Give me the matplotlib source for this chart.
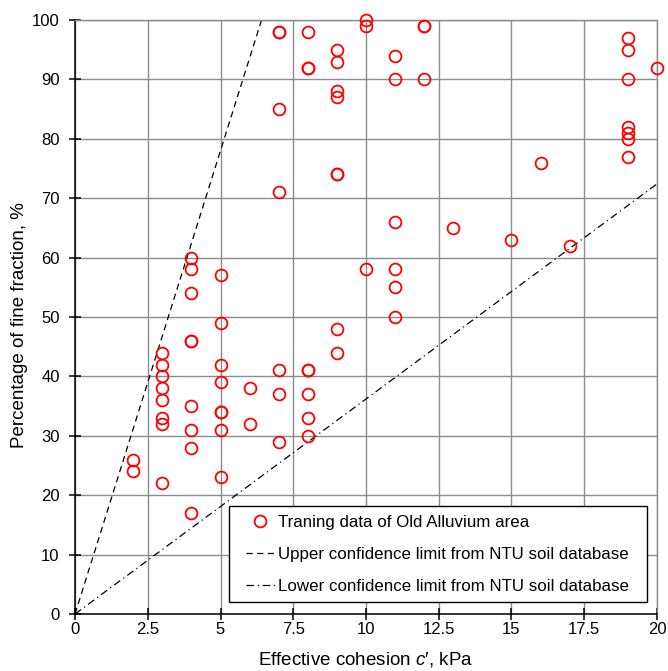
import numpy as np
import matplotlib
matplotlib.use("Agg")
from matplotlib import pyplot as plt
from matplotlib.lines import Line2D
from matplotlib.legend_handler import HandlerLine2D

plt.rcParams['font.family'] = ['Liberation Sans', 'DejaVu Sans']
plt.rcParams['mathtext.fontset'] = 'custom'
plt.rcParams['mathtext.rm'] = 'Liberation Sans'
plt.rcParams['mathtext.it'] = 'Liberation Sans:italic'

# effective cohesion c' (kPa) and fine fraction (%) of the training data
cohesion = [2, 2,
            3, 3, 3, 3, 3, 3, 3, 3,
            4, 4, 4, 4, 4, 4, 4, 4, 4,
            5, 5, 5, 5, 5, 5, 5, 5,
            6, 6,
            7, 7, 7, 7, 7, 7, 7,
            8, 8, 8, 8, 8, 8, 8, 8,
            9, 9, 9, 9, 9, 9, 9, 9,
            10, 10, 10,
            11, 11, 11, 11, 11, 11,
            12, 12, 12,
            13, 15, 16, 17,
            19, 19, 19, 19, 19, 19, 19,
            20]
fines = [26, 24,
         44, 42, 40, 38, 36, 33, 32, 22,
         60, 58, 54, 46, 46, 35, 31, 28, 17,
         57, 49, 42, 39, 34, 34, 31, 23,
         38, 32,
         98, 98, 85, 71, 41, 37, 29,
         98, 92, 92, 41, 41, 37, 33, 30,
         95, 93, 88, 87, 74, 74, 48, 44,
         100, 99, 58,
         94, 90, 66, 58, 55, 50,
         99, 99, 90,
         65, 63, 76, 62,
         97, 95, 90, 82, 81, 80, 77,
         92]

# confidence limits from NTU soil database (FF = k * c')
upper_slope = 15.6
lower_slope = 3.62

fig = plt.figure(figsize=(6.68, 6.71), dpi=100)
ax = fig.add_axes([0.1123, 0.0849, 0.8712, 0.8853])

ax.grid(True, color='#8c8c8c', lw=1.0, zorder=0)
ax.set_axisbelow(True)

ax.plot(cohesion, fines, 'o', ms=8.5, mfc='none', mec='red', mew=1.3,
        label='Traning data of Old Alluvium area  ', zorder=3, clip_on=False)

c_line = np.array([0, 20])
ax.plot(c_line, upper_slope * c_line, color='black', lw=0.9,
        dashes=(5, 3.5), label='Upper confidence limit from NTU soil database  ')
ax.plot(c_line, lower_slope * c_line, color='black', lw=0.9,
        dashes=(6, 3, 1, 3), label='Lower confidence limit from NTU soil database  ')

ax.set_xlim(0, 20)
ax.set_ylim(0, 100)
ax.set_xticks(np.arange(0, 20.1, 2.5))
ax.set_xticklabels(['0', '2.5', '5', '7.5', '10', '12.5', '15', '17.5', '20'])
ax.set_yticks(np.arange(0, 101, 10))

for s in ['top', 'right']:
    ax.spines[s].set_color('#8c8c8c')
    ax.spines[s].set_linewidth(1.0)
for s in ['left', 'bottom']:
    ax.spines[s].set_linewidth(1.1)
ax.tick_params(direction='inout', length=8, width=1.1, labelsize=12)
ax.tick_params(axis='x', pad=2)
ax.tick_params(axis='y', pad=7)

ax.set_xlabel("Effective cohesion $c$\u2032, kPa", fontsize=13.5)
ax.set_ylabel('Percentage of fine fraction, %', fontsize=13.5)
ax.xaxis.set_label_coords(0.499, -0.06)
ax.yaxis.set_label_coords(-0.080, 0.4865)

leg = ax.legend(loc='lower right', bbox_to_anchor=(0.983, 0.02), fontsize=12.2,
                frameon=True, fancybox=False, edgecolor='black', framealpha=1,
                handlelength=2.2, handletextpad=0.2, labelspacing=1.0,
                borderpad=0.5, borderaxespad=0, numpoints=1,
                handler_map={Line2D: HandlerLine2D(xpad=0.5)})
leg.get_frame().set_linewidth(1.0)

fig.savefig('out.png', dpi=100)
